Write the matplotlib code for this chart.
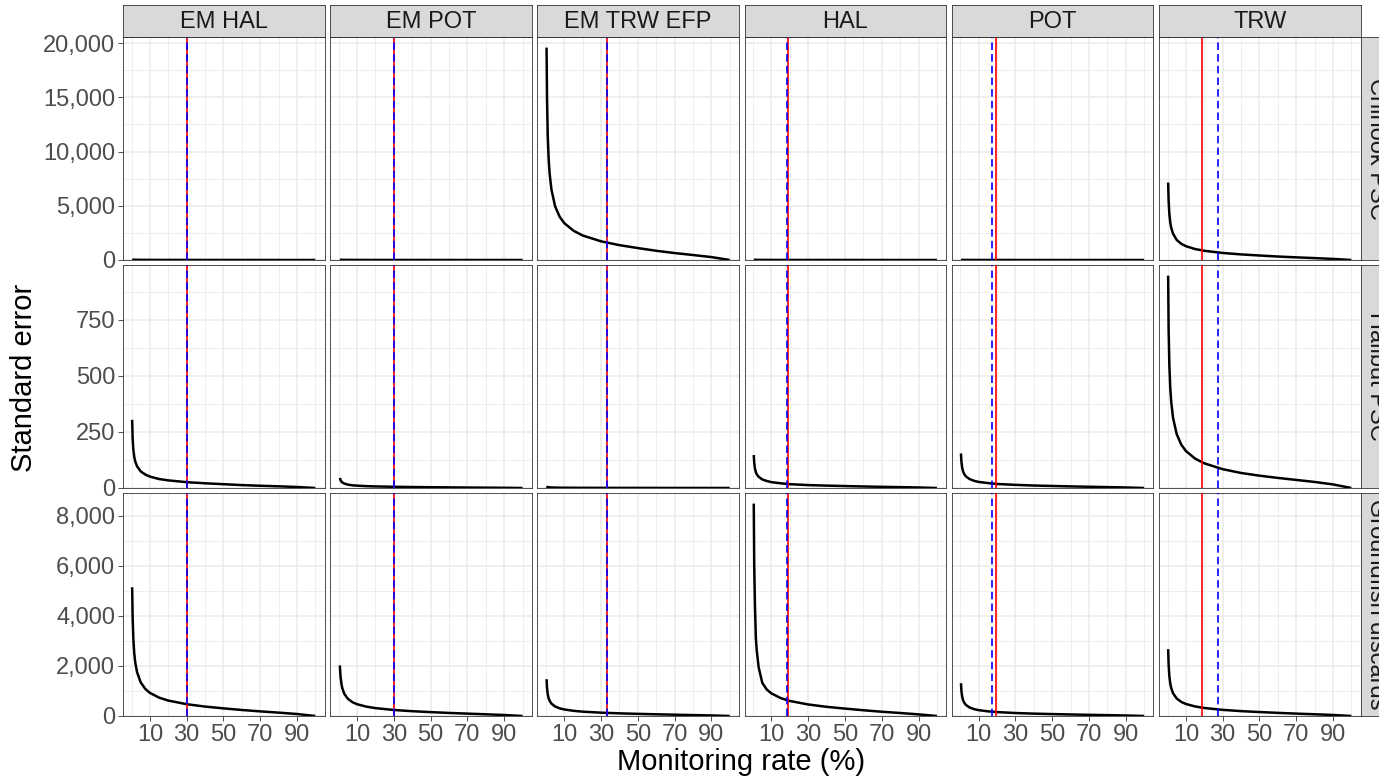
import numpy as np
import matplotlib
matplotlib.use("Agg")
import matplotlib.pyplot as plt
from matplotlib.ticker import FuncFormatter, FixedLocator

plt.rcParams['font.family'] = ['Liberation Sans', 'DejaVu Sans']

fleets = ["EM HAL", "EM POT", "EM TRW EFP", "HAL", "POT", "TRW"]
species = ["Chinook PSC", "Halibut PSC", "Groundfish discards"]

rate = [0.35, 0.6, 1, 1.5, 2, 3, 5, 7.5, 10, 15, 20, 30, 40, 50, 60, 70, 80, 90, 100]
nan = np.nan

chinook_se = {
    "EM HAL":     [51, 39, 30, 24, 21, 17, 13, 10.5, 9, 7, 6, 4.6, 3.7, 3, 2.4, 2, 1.5, 1, 0],
    "EM POT":     [nan, 26, 20, 16, 14, 11, 8.7, 7, 6, 4.8, 4, 3.1, 2.4, 2, 1.6, 1.3, 1, 0.7, 0],
    "EM TRW EFP": [19580, 14900, 11400, 9300, 8000, 6500, 4950, 3980, 3400, 2700, 2260, 1720,
                   1370, 1100, 850, 640, 460, 270, 0],
    "HAL":        [34, 26, 20, 16, 14, 11, 8.7, 7, 6, 4.8, 4, 3.1, 2.4, 2, 1.6, 1.3, 1, 0.7, 0],
    "POT":        [17, 13, 10, 8, 7, 5.7, 4.4, 3.5, 3, 2.4, 2, 1.5, 1.2, 1, 0.8, 0.65, 0.5, 0.33, 0],
    "TRW":        [7140, 5470, 4230, 3440, 2980, 2420, 1850, 1490, 1275, 1010, 850, 650,
                   515, 415, 320, 245, 175, 100, 0],
}
halibut_se = {
    "EM HAL":     [304, 222, 170, 138, 119, 97, 74, 60, 51, 40, 34, 26, 21, 17, 13, 10, 7.5, 4.5, 0],
    "EM POT":     [nan, 45, 35, 28, 24.5, 20, 15, 12, 10.5, 8.3, 7, 5.4, 4.3, 3.5, 2.8, 2.1, 1.5, 0.9, 0],
    "EM TRW EFP": [7, 5.3, 4.1, 3.3, 2.9, 2.3, 1.8, 1.4, 1.2, 1, 0.8, 0.6, 0.5, 0.4, 0.33, 0.27, 0.2, 0.13, 0],
    "HAL":        [147, 112, 87, 70, 61, 50, 38, 31, 26, 21, 17, 13, 10.6, 8.7, 6.8, 5.2, 3.8, 2.3, 0],
    "POT":        [154, 117, 91, 74, 64, 52, 40, 32, 27, 22, 18, 14, 11, 9.1, 7.1, 5.5, 4, 2.4, 0],
    "TRW":        [947, 708, 547, 446, 385, 313, 240, 193, 165, 131, 110, 84, 67, 55, 45, 36, 27, 16, 0],
}
groundfish_se = {
    "EM HAL":     [5140, 3960, 3065, 2495, 2156, 1750, 1343, 1081, 924, 733, 616, 471, 376, 305,
                   240, 185, 135, 80, 0],
    "EM POT":     [nan, 2020, 1560, 1270, 1100, 890, 685, 550, 470, 374, 314, 240, 192, 155,
                   122, 95, 68, 40, 0],
    "EM TRW EFP": [1470, 1120, 866, 705, 609, 495, 379, 305, 261, 207, 174, 133, 106, 86,
                   68, 52, 37, 22, 0],
    "HAL":        [8480, 6000, 4400, 3100, 2600, 1950, 1320, 1050, 900, 715, 600, 460, 366, 295,
                   230, 170, 120, 65, 0],
    "POT":        [1310, 1000, 776, 632, 546, 444, 340, 274, 234, 186, 156, 119, 95, 77,
                   61, 47, 34, 20, 0],
    "TRW":        [2670, 2060, 1590, 1296, 1120, 910, 698, 562, 480, 381, 320, 245, 195, 158,
                   125, 96, 69, 41, 0],
}
se_by_species = [chinook_se, halibut_se, groundfish_se]

# vertical reference lines (monitoring rate, %)
red_line_rate = [30, 30, 33, 19.2, 19.3, 18.8]
blue_line_rate = [30, 30, 33, 18.2, 17.3, 27.6]

y_breaks = [[0, 5000, 10000, 15000, 20000], [0, 250, 500, 750], [0, 2000, 4000, 6000, 8000]]
x_breaks = [10, 30, 50, 70, 90]
x_minor = [0, 20, 40, 60, 80, 100]

W, H = 1379, 778
fig = plt.figure(figsize=(W / 100, H / 100), dpi=100)

left0, col_step, pw = 123, 207.2, 201.5
top0, row_step, ph = 37, 228, 223
strip_h = 32
border = "#333333"
grid_c = "#EBEBEB"
tick_c = "#4D4D4D"

def box(x, y, w, h):
    return [x / W, 1 - (y + h) / H, w / W, h / H]

xmin = min(rate)
xmax = max(rate)
xpad = 0.05 * (xmax - xmin)

for r, sp in enumerate(species):
    data = se_by_species[r]
    ymax = np.nanmax([np.nanmax(v) for v in data.values()])
    ytop = ymax * 1.05
    breaks = y_breaks[r]
    step = breaks[1] - breaks[0]
    yminor = [b + step / 2 for b in breaks if b + step / 2 < ytop]
    for c, fl in enumerate(fleets):
        ax = fig.add_axes(box(left0 + c * col_step, top0 + r * row_step, pw, ph))
        ax.set_xlim(xmin - xpad, xmax + xpad)
        ax.set_ylim(0, ytop)
        for g in x_minor:
            ax.axvline(g, color=grid_c, lw=0.6, zorder=0)
        for g in x_breaks:
            ax.axvline(g, color=grid_c, lw=1.1, zorder=0)
        for g in yminor:
            ax.axhline(g, color=grid_c, lw=0.6, zorder=0)
        for g in breaks:
            ax.axhline(g, color=grid_c, lw=1.1, zorder=0)

        ax.plot(rate, data[fl], color="black", lw=1.8, zorder=3, solid_capstyle="butt")
        ax.axvline(red_line_rate[c], color="#FF0000", lw=1.2, zorder=4)
        ax.axvline(blue_line_rate[c], color="#0000FF", lw=1.2, ls=(0, (4.5, 2.5)), zorder=5)

        ax.xaxis.set_major_locator(FixedLocator(x_breaks))
        ax.yaxis.set_major_locator(FixedLocator(breaks))
        ax.tick_params(length=3.5, width=0.6, color=border, labelcolor=tick_c,
                       labelsize=17, pad=2)
        ax.yaxis.set_major_formatter(FuncFormatter(lambda v, p: f"{v:,.0f}"))
        if c != 0:
            ax.tick_params(axis="y", length=0, labelleft=False)
        if r != len(species) - 1:
            ax.tick_params(axis="x", length=0, labelbottom=False)
        for s in ax.spines.values():
            s.set_color(border)
            s.set_linewidth(0.6)

        # column strips on top
        if r == 0:
            st = fig.add_axes(box(left0 + c * col_step, top0 - strip_h, pw, strip_h))
            st.set_facecolor("#D9D9D9")
            st.set_xticks([])
            st.set_yticks([])
            for s in st.spines.values():
                s.set_color(border)
                s.set_linewidth(0.6)
            st.text(0.5, 0.47, fl, ha="center", va="center", fontsize=17,
                    color="#1A1A1A", transform=st.transAxes)

    # row strips on the right (partly outside the figure, as in the original)
    sx = left0 + 5 * col_step + pw
    st = fig.add_axes(box(sx, top0 + r * row_step, strip_h, ph))
    st.set_facecolor("#D9D9D9")
    st.set_xticks([])
    st.set_yticks([])
    for s in st.spines.values():
        s.set_color(border)
        s.set_linewidth(0.6)
    st.text(0.5, 0.5, sp, ha="center", va="center", rotation=-90, fontsize=17,
            color="#1A1A1A", transform=st.transAxes, clip_on=False)

fig.text(741 / W, 1 - 762 / H, "Monitoring rate (%)", ha="center", va="center", fontsize=21)
fig.text(24 / W, 1 - 378 / H, "Standard error", ha="center", va="center",
         rotation=90, fontsize=21)

fig.savefig("out.png", dpi=100)
